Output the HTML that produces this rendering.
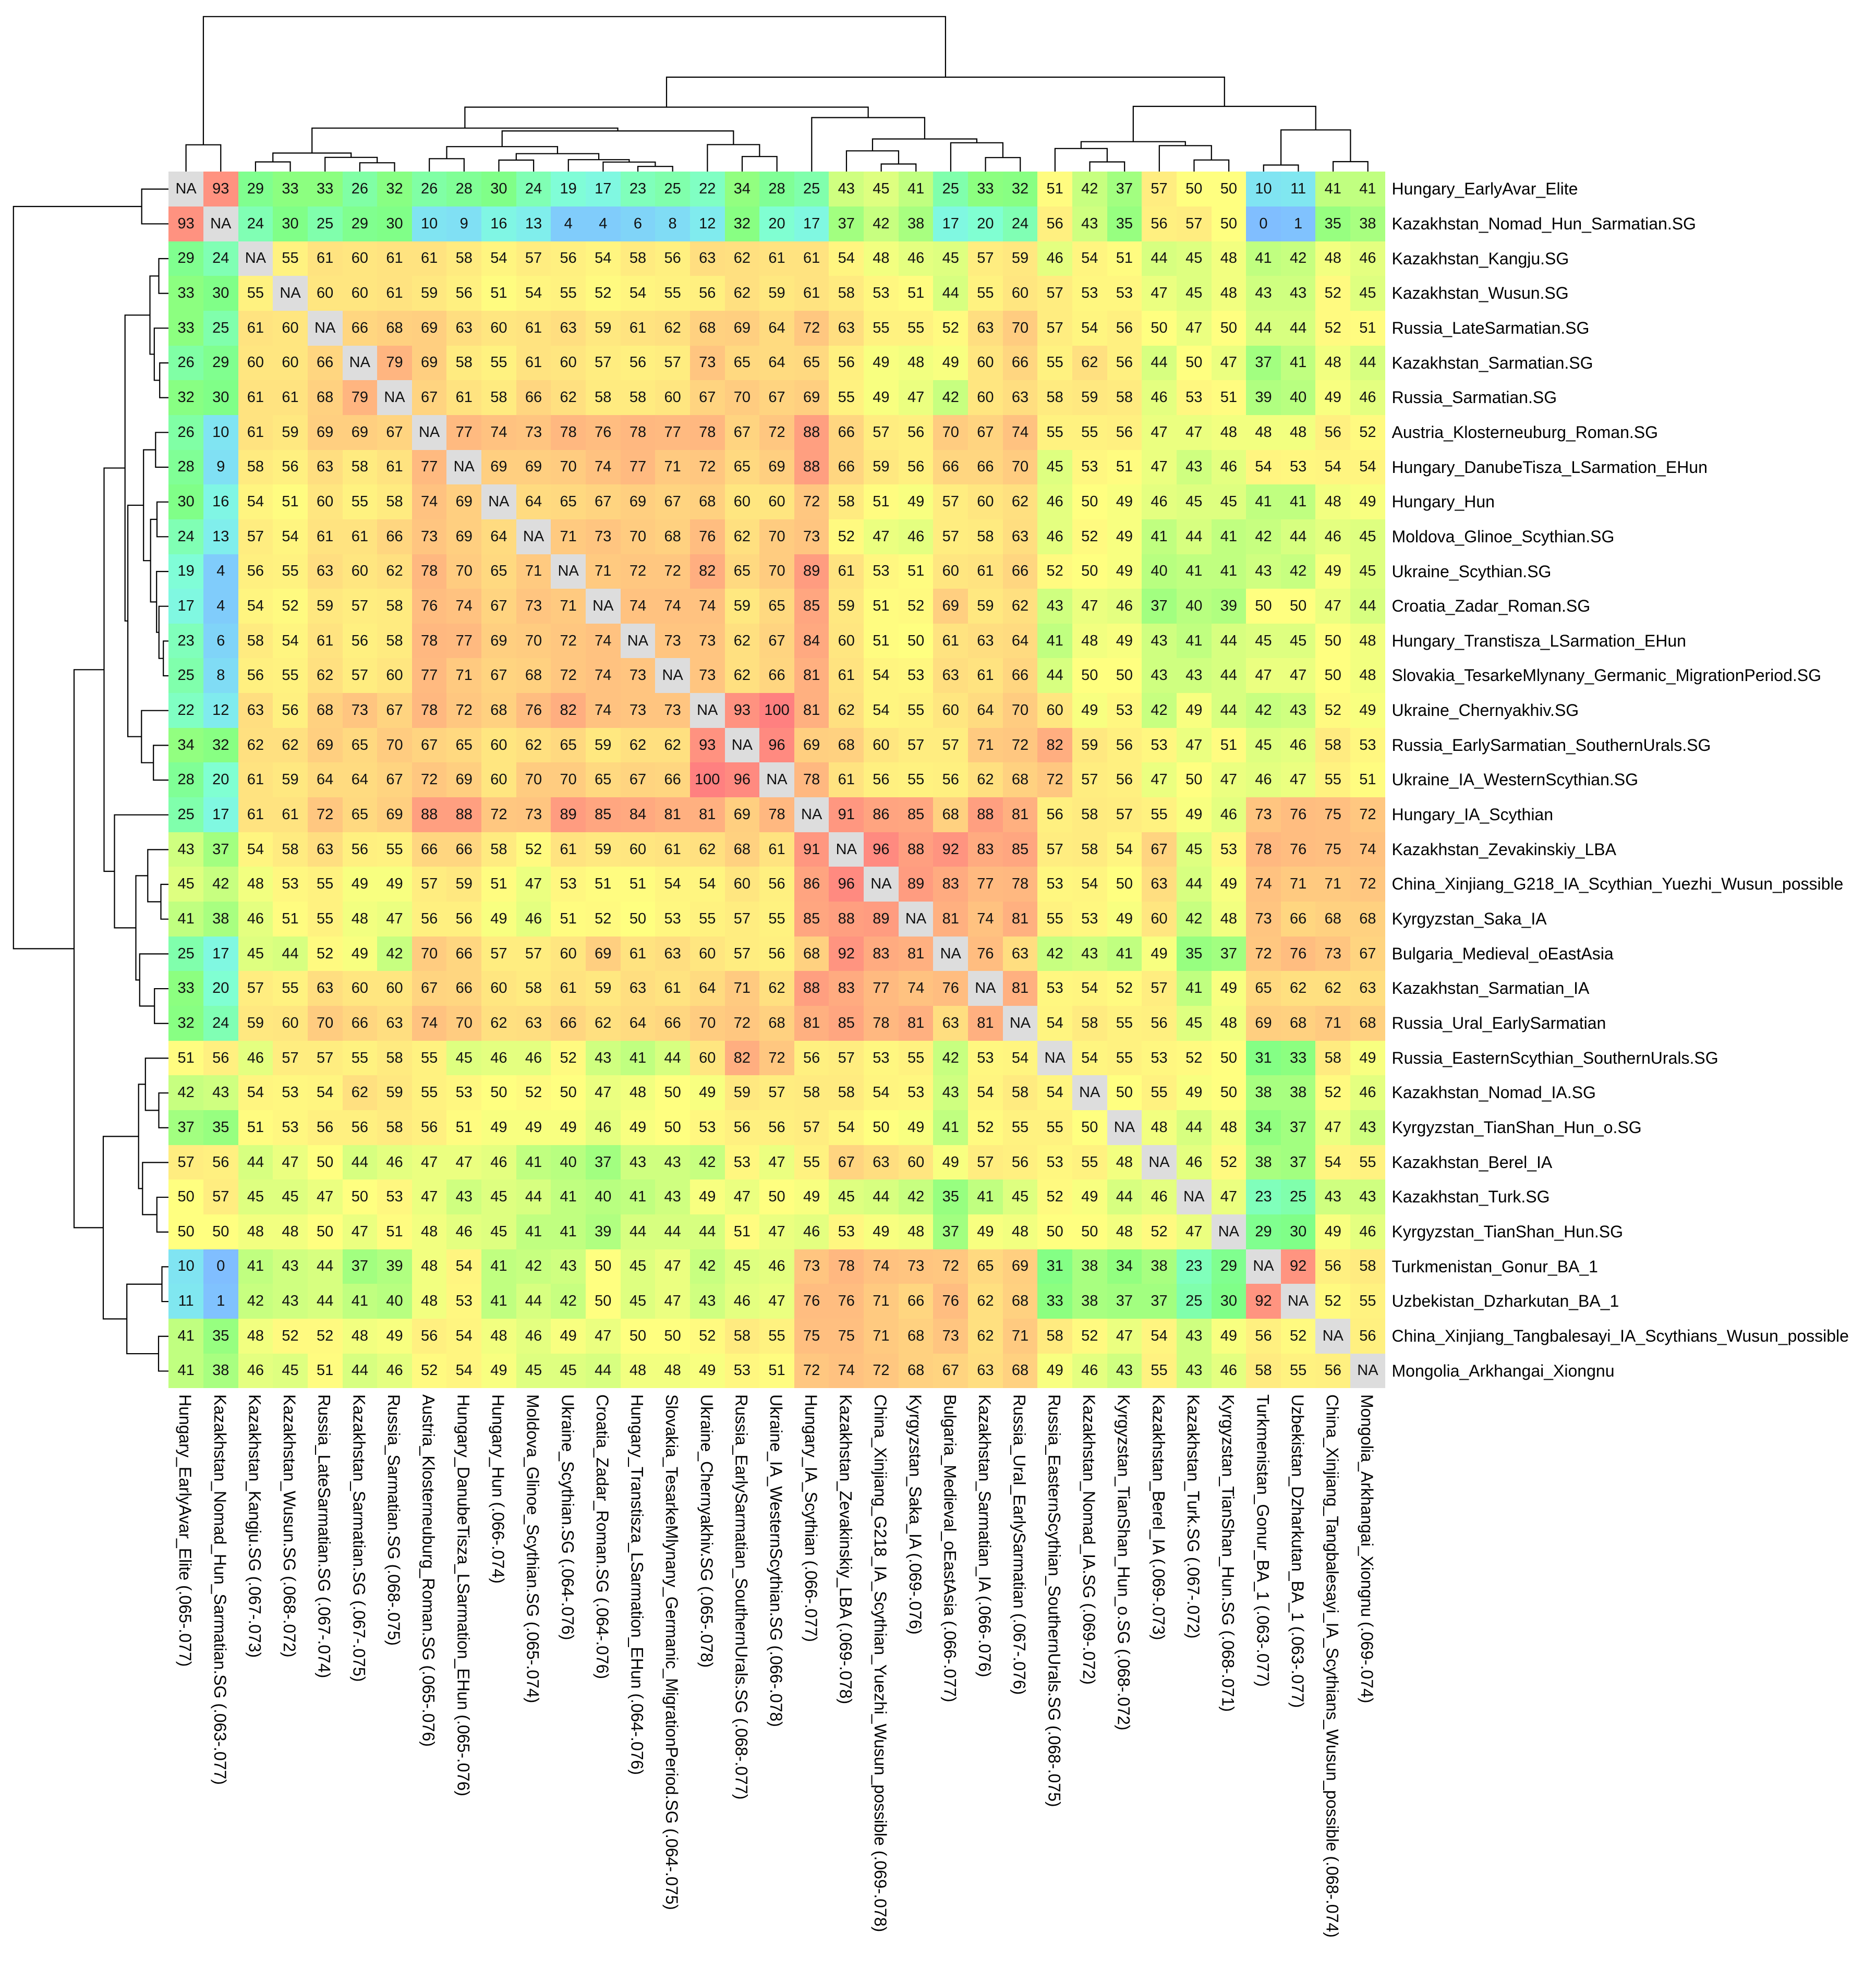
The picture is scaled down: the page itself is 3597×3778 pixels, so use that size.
<!DOCTYPE html>
<html><head><meta charset="utf-8">
<style>
html,body{margin:0;padding:0;background:#fff}
body{width:3597px;height:3778px;position:relative;overflow:hidden;font-family:"Liberation Sans",Arial,sans-serif}
.hm{position:absolute;left:323.3px;top:329.3px;display:grid;grid-template-columns:repeat(35,66.65px);grid-template-rows:repeat(35,66.67px);font-size:29px;color:#111}
.hm i{display:flex;align-items:center;justify-content:center;font-style:normal;line-height:1}
.rl{position:absolute;left:2668.5px;top:329.3px;font-size:32px;color:#000;white-space:nowrap}
.rl div{height:66.67px;line-height:66.67px}
.n{background:#DDDDDD}
.c0{background:#80BEFF}.c1{background:#80C2FE}.c2{background:#80C5FD}.c3{background:#80C9FC}.c4{background:#80CCFB}.c5{background:#80D0FA}.c6{background:#80D4F8}.c7{background:#80D8F7}.c8{background:#80DCF5}.c9{background:#80E0F4}
.c10{background:#80E4F2}.c11{background:#80E7F0}.c12{background:#80EBEE}.c13{background:#80EEEC}.c14{background:#80F1E9}.c15{background:#80F3E7}.c16{background:#80F6E4}.c17{background:#80F8E1}.c18{background:#80FADC}.c19{background:#80FDD7}
.c20{background:#80FFD2}.c21{background:#80FFCA}.c22{background:#80FFC3}.c23{background:#80FFBB}.c24{background:#80FFB4}.c25{background:#80FFAC}.c26{background:#80FFA5}.c27{background:#80FF9E}.c28{background:#80FF96}.c29{background:#80FF8F}
.c30{background:#80FF88}.c31{background:#84FF85}.c32{background:#88FF83}.c33{background:#8CFF80}.c34{background:#92FF80}.c35{background:#97FF80}.c36{background:#9DFF80}.c37{background:#A2FF80}.c38{background:#A8FF80}.c39{background:#B0FF80}
.c40{background:#B8FF80}.c41{background:#C0FF80}.c42{background:#C7FF80}.c43{background:#CFFF80}.c44{background:#D7FF80}.c45{background:#DEFF80}.c46{background:#E4FF80}.c47{background:#EBFF80}.c48{background:#F2FF80}.c49{background:#F8FF80}
.c50{background:#FFFF80}.c51{background:#FFFC80}.c52{background:#FFFA80}.c53{background:#FFF780}.c54{background:#FFF580}.c55{background:#FFF280}.c56{background:#FFF080}.c57{background:#FFED80}.c58{background:#FFEB80}.c59{background:#FFE880}
.c60{background:#FFE680}.c61{background:#FFE380}.c62{background:#FFE080}.c63{background:#FFDE80}.c64{background:#FFDB80}.c65{background:#FFD980}.c66{background:#FFD680}.c67{background:#FFD480}.c68{background:#FFD180}.c69{background:#FFCF80}
.c70{background:#FFCC80}.c71{background:#FFCA80}.c72{background:#FFC780}.c73{background:#FFC580}.c74{background:#FFC280}.c75{background:#FFBF80}.c76{background:#FFBD80}.c77{background:#FFBA80}.c78{background:#FFB880}.c79{background:#FFB580}
.c80{background:#FFB380}.c81{background:#FFB080}.c82{background:#FFAE80}.c83{background:#FFAB80}.c84{background:#FFA980}.c85{background:#FFA680}.c86{background:#FFA480}.c87{background:#FFA180}.c88{background:#FF9F80}.c89{background:#FF9C80}
.c90{background:#FF9980}.c91{background:#FF9780}.c92{background:#FF9480}.c93{background:#FF9280}.c96{background:#FF8A80}.c100{background:#FF8080}
</style></head><body>
<svg width="3597" height="3778" style="position:absolute;left:0;top:0" xmlns="http://www.w3.org/2000/svg">
<g transform="matrix(66.65 0 0 -1 323.3 329.3)" fill="none" stroke="#000" stroke-width="2.2">
<path vector-effect="non-scaling-stroke" d="M0.5 0V51.6H1.5V0M2.5 0V18.8H3.5V0M5.5 0V17.1H6.5V0M4.5 0V27.5H6V17.1M3 18.8V35.8H5.25V27.5M7.5 0V25H8.5V0M9.5 0V22.3H10.5V0M13.5 0V10.1H14.5V0M12.5 0V18.5H14V10.1M11.5 0V23.1H13.25V18.5M10 22.3V34.6H12.375V23.1M8 25V48.1H11.1875V34.6M16.5 0V29.1H17.5V0M15.5 0V52H17V29.1M9.59375 48.1V78.2H16.25V52M4.125 35.8V83.6H12.921875V78.2M20.5 0V14.8H21.5V0M19.5 0V40H21V14.8M23.5 0V27.1H24.5V0M22.5 0V55.5H24V27.1M20.25 40V62.8H23.25V55.5M18.5 0V103.8H21.75V62.8M8.5234 83.6V123.8H20.125V103.8M26.5 0V18.8H27.5V0M25.5 0V44.5H27V18.8M29.5 0V22.5H30.5V0M28.5 0V50H30V22.5M26.25 44.5V57.6H29.25V50M31.5 0V12.8H32.5V0M33.5 0V19.3H34.5V0M32 12.8V80.1H34V19.3M27.75 57.6V125.3H33V80.1M14.3242 123.8V181.3H30.375V125.3M1 51.6V297.5H22.3496V181.3"/>
</g>
<g transform="matrix(0 66.67 -1 0 323.3 329.3)" fill="none" stroke="#000" stroke-width="2.2">
<path vector-effect="non-scaling-stroke" d="M0.5 0V51.6H1.5V0M2.5 0V18.8H3.5V0M5.5 0V17.1H6.5V0M4.5 0V27.5H6V17.1M3 18.8V35.8H5.25V27.5M7.5 0V25H8.5V0M9.5 0V22.3H10.5V0M13.5 0V10.1H14.5V0M12.5 0V18.5H14V10.1M11.5 0V23.1H13.25V18.5M10 22.3V34.6H12.375V23.1M8 25V48.1H11.1875V34.6M16.5 0V29.1H17.5V0M15.5 0V52H17V29.1M9.59375 48.1V78.2H16.25V52M4.125 35.8V83.6H12.921875V78.2M20.5 0V14.8H21.5V0M19.5 0V40H21V14.8M23.5 0V27.1H24.5V0M22.5 0V55.5H24V27.1M20.25 40V62.8H23.25V55.5M18.5 0V103.8H21.75V62.8M8.5234 83.6V123.8H20.125V103.8M26.5 0V18.8H27.5V0M25.5 0V44.5H27V18.8M29.5 0V22.5H30.5V0M28.5 0V50H30V22.5M26.25 44.5V57.6H29.25V50M31.5 0V12.8H32.5V0M33.5 0V19.3H34.5V0M32 12.8V80.1H34V19.3M27.75 57.6V125.3H33V80.1M14.3242 123.8V181.3H30.375V125.3M1 51.6V297.5H22.3496V181.3"/>
</g>
<g transform="rotate(90)" font-family="Liberation Sans, Arial, sans-serif" font-size="32" fill="#000">
<text x="2674" y="-344.1">Hungary_EarlyAvar_Elite (.065-.077)</text>
<text x="2674" y="-410.8">Kazakhstan_Nomad_Hun_Sarmatian.SG (.063-.077)</text>
<text x="2674" y="-477.4">Kazakhstan_Kangju.SG (.067-.073)</text>
<text x="2674" y="-544.1">Kazakhstan_Wusun.SG (.068-.072)</text>
<text x="2674" y="-610.7">Russia_LateSarmatian.SG (.067-.074)</text>
<text x="2674" y="-677.4">Kazakhstan_Sarmatian.SG (.067-.075)</text>
<text x="2674" y="-744.0">Russia_Sarmatian.SG (.068-.075)</text>
<text x="2674" y="-810.7">Austria_Klosterneuburg_Roman.SG (.065-.076)</text>
<text x="2674" y="-877.3">Hungary_DanubeTisza_LSarmation_EHun (.065-.076)</text>
<text x="2674" y="-944.0">Hungary_Hun (.066-.074)</text>
<text x="2674" y="-1010.6">Moldova_Glinoe_Scythian.SG (.065-.074)</text>
<text x="2674" y="-1077.3">Ukraine_Scythian.SG (.064-.076)</text>
<text x="2674" y="-1143.9">Croatia_Zadar_Roman.SG (.064-.076)</text>
<text x="2674" y="-1210.6">Hungary_Transtisza_LSarmation_EHun (.064-.076)</text>
<text x="2674" y="-1277.2">Slovakia_TesarkeMlynany_Germanic_MigrationPeriod.SG (.064-.075)</text>
<text x="2674" y="-1343.9">Ukraine_Chernyakhiv.SG (.065-.078)</text>
<text x="2674" y="-1410.5">Russia_EarlySarmatian_SouthernUrals.SG (.068-.077)</text>
<text x="2674" y="-1477.2">Ukraine_IA_WesternScythian.SG (.066-.078)</text>
<text x="2674" y="-1543.8">Hungary_IA_Scythian (.066-.077)</text>
<text x="2674" y="-1610.5">Kazakhstan_Zevakinskiy_LBA (.069-.078)</text>
<text x="2674" y="-1677.1">China_Xinjiang_G218_IA_Scythian_Yuezhi_Wusun_possible (.069-.078)</text>
<text x="2674" y="-1743.8">Kyrgyzstan_Saka_IA (.069-.076)</text>
<text x="2674" y="-1810.4">Bulgaria_Medieval_oEastAsia (.066-.077)</text>
<text x="2674" y="-1877.1">Kazakhstan_Sarmatian_IA (.066-.076)</text>
<text x="2674" y="-1943.7">Russia_Ural_EarlySarmatian (.067-.076)</text>
<text x="2674" y="-2010.4">Russia_EasternScythian_SouthernUrals.SG (.068-.075)</text>
<text x="2674" y="-2077.0">Kazakhstan_Nomad_IA.SG (.069-.072)</text>
<text x="2674" y="-2143.7">Kyrgyzstan_TianShan_Hun_o.SG (.068-.072)</text>
<text x="2674" y="-2210.3">Kazakhstan_Berel_IA (.069-.073)</text>
<text x="2674" y="-2277.0">Kazakhstan_Turk.SG (.067-.072)</text>
<text x="2674" y="-2343.6">Kyrgyzstan_TianShan_Hun.SG (.068-.071)</text>
<text x="2674" y="-2410.3">Turkmenistan_Gonur_BA_1 (.063-.077)</text>
<text x="2674" y="-2476.9">Uzbekistan_Dzharkutan_BA_1 (.063-.077)</text>
<text x="2674" y="-2543.6">China_Xinjiang_Tangbalesayi_IA_Scythians_Wusun_possible (.068-.074)</text>
<text x="2674" y="-2610.2">Mongolia_Arkhangai_Xiongnu (.069-.074)</text>
</g>
</svg>
<div class="hm">
<i class=n>NA</i><i class=c93>93</i><i class=c29>29</i><i class=c33>33</i><i class=c33>33</i><i class=c26>26</i><i class=c32>32</i><i class=c26>26</i><i class=c28>28</i><i class=c30>30</i><i class=c24>24</i><i class=c19>19</i><i class=c17>17</i><i class=c23>23</i><i class=c25>25</i><i class=c22>22</i><i class=c34>34</i><i class=c28>28</i><i class=c25>25</i><i class=c43>43</i><i class=c45>45</i><i class=c41>41</i><i class=c25>25</i><i class=c33>33</i><i class=c32>32</i><i class=c51>51</i><i class=c42>42</i><i class=c37>37</i><i class=c57>57</i><i class=c50>50</i><i class=c50>50</i><i class=c10>10</i><i class=c11>11</i><i class=c41>41</i><i class=c41>41</i>
<i class=c93>93</i><i class=n>NA</i><i class=c24>24</i><i class=c30>30</i><i class=c25>25</i><i class=c29>29</i><i class=c30>30</i><i class=c10>10</i><i class=c9>9</i><i class=c16>16</i><i class=c13>13</i><i class=c4>4</i><i class=c4>4</i><i class=c6>6</i><i class=c8>8</i><i class=c12>12</i><i class=c32>32</i><i class=c20>20</i><i class=c17>17</i><i class=c37>37</i><i class=c42>42</i><i class=c38>38</i><i class=c17>17</i><i class=c20>20</i><i class=c24>24</i><i class=c56>56</i><i class=c43>43</i><i class=c35>35</i><i class=c56>56</i><i class=c57>57</i><i class=c50>50</i><i class=c0>0</i><i class=c1>1</i><i class=c35>35</i><i class=c38>38</i>
<i class=c29>29</i><i class=c24>24</i><i class=n>NA</i><i class=c55>55</i><i class=c61>61</i><i class=c60>60</i><i class=c61>61</i><i class=c61>61</i><i class=c58>58</i><i class=c54>54</i><i class=c57>57</i><i class=c56>56</i><i class=c54>54</i><i class=c58>58</i><i class=c56>56</i><i class=c63>63</i><i class=c62>62</i><i class=c61>61</i><i class=c61>61</i><i class=c54>54</i><i class=c48>48</i><i class=c46>46</i><i class=c45>45</i><i class=c57>57</i><i class=c59>59</i><i class=c46>46</i><i class=c54>54</i><i class=c51>51</i><i class=c44>44</i><i class=c45>45</i><i class=c48>48</i><i class=c41>41</i><i class=c42>42</i><i class=c48>48</i><i class=c46>46</i>
<i class=c33>33</i><i class=c30>30</i><i class=c55>55</i><i class=n>NA</i><i class=c60>60</i><i class=c60>60</i><i class=c61>61</i><i class=c59>59</i><i class=c56>56</i><i class=c51>51</i><i class=c54>54</i><i class=c55>55</i><i class=c52>52</i><i class=c54>54</i><i class=c55>55</i><i class=c56>56</i><i class=c62>62</i><i class=c59>59</i><i class=c61>61</i><i class=c58>58</i><i class=c53>53</i><i class=c51>51</i><i class=c44>44</i><i class=c55>55</i><i class=c60>60</i><i class=c57>57</i><i class=c53>53</i><i class=c53>53</i><i class=c47>47</i><i class=c45>45</i><i class=c48>48</i><i class=c43>43</i><i class=c43>43</i><i class=c52>52</i><i class=c45>45</i>
<i class=c33>33</i><i class=c25>25</i><i class=c61>61</i><i class=c60>60</i><i class=n>NA</i><i class=c66>66</i><i class=c68>68</i><i class=c69>69</i><i class=c63>63</i><i class=c60>60</i><i class=c61>61</i><i class=c63>63</i><i class=c59>59</i><i class=c61>61</i><i class=c62>62</i><i class=c68>68</i><i class=c69>69</i><i class=c64>64</i><i class=c72>72</i><i class=c63>63</i><i class=c55>55</i><i class=c55>55</i><i class=c52>52</i><i class=c63>63</i><i class=c70>70</i><i class=c57>57</i><i class=c54>54</i><i class=c56>56</i><i class=c50>50</i><i class=c47>47</i><i class=c50>50</i><i class=c44>44</i><i class=c44>44</i><i class=c52>52</i><i class=c51>51</i>
<i class=c26>26</i><i class=c29>29</i><i class=c60>60</i><i class=c60>60</i><i class=c66>66</i><i class=n>NA</i><i class=c79>79</i><i class=c69>69</i><i class=c58>58</i><i class=c55>55</i><i class=c61>61</i><i class=c60>60</i><i class=c57>57</i><i class=c56>56</i><i class=c57>57</i><i class=c73>73</i><i class=c65>65</i><i class=c64>64</i><i class=c65>65</i><i class=c56>56</i><i class=c49>49</i><i class=c48>48</i><i class=c49>49</i><i class=c60>60</i><i class=c66>66</i><i class=c55>55</i><i class=c62>62</i><i class=c56>56</i><i class=c44>44</i><i class=c50>50</i><i class=c47>47</i><i class=c37>37</i><i class=c41>41</i><i class=c48>48</i><i class=c44>44</i>
<i class=c32>32</i><i class=c30>30</i><i class=c61>61</i><i class=c61>61</i><i class=c68>68</i><i class=c79>79</i><i class=n>NA</i><i class=c67>67</i><i class=c61>61</i><i class=c58>58</i><i class=c66>66</i><i class=c62>62</i><i class=c58>58</i><i class=c58>58</i><i class=c60>60</i><i class=c67>67</i><i class=c70>70</i><i class=c67>67</i><i class=c69>69</i><i class=c55>55</i><i class=c49>49</i><i class=c47>47</i><i class=c42>42</i><i class=c60>60</i><i class=c63>63</i><i class=c58>58</i><i class=c59>59</i><i class=c58>58</i><i class=c46>46</i><i class=c53>53</i><i class=c51>51</i><i class=c39>39</i><i class=c40>40</i><i class=c49>49</i><i class=c46>46</i>
<i class=c26>26</i><i class=c10>10</i><i class=c61>61</i><i class=c59>59</i><i class=c69>69</i><i class=c69>69</i><i class=c67>67</i><i class=n>NA</i><i class=c77>77</i><i class=c74>74</i><i class=c73>73</i><i class=c78>78</i><i class=c76>76</i><i class=c78>78</i><i class=c77>77</i><i class=c78>78</i><i class=c67>67</i><i class=c72>72</i><i class=c88>88</i><i class=c66>66</i><i class=c57>57</i><i class=c56>56</i><i class=c70>70</i><i class=c67>67</i><i class=c74>74</i><i class=c55>55</i><i class=c55>55</i><i class=c56>56</i><i class=c47>47</i><i class=c47>47</i><i class=c48>48</i><i class=c48>48</i><i class=c48>48</i><i class=c56>56</i><i class=c52>52</i>
<i class=c28>28</i><i class=c9>9</i><i class=c58>58</i><i class=c56>56</i><i class=c63>63</i><i class=c58>58</i><i class=c61>61</i><i class=c77>77</i><i class=n>NA</i><i class=c69>69</i><i class=c69>69</i><i class=c70>70</i><i class=c74>74</i><i class=c77>77</i><i class=c71>71</i><i class=c72>72</i><i class=c65>65</i><i class=c69>69</i><i class=c88>88</i><i class=c66>66</i><i class=c59>59</i><i class=c56>56</i><i class=c66>66</i><i class=c66>66</i><i class=c70>70</i><i class=c45>45</i><i class=c53>53</i><i class=c51>51</i><i class=c47>47</i><i class=c43>43</i><i class=c46>46</i><i class=c54>54</i><i class=c53>53</i><i class=c54>54</i><i class=c54>54</i>
<i class=c30>30</i><i class=c16>16</i><i class=c54>54</i><i class=c51>51</i><i class=c60>60</i><i class=c55>55</i><i class=c58>58</i><i class=c74>74</i><i class=c69>69</i><i class=n>NA</i><i class=c64>64</i><i class=c65>65</i><i class=c67>67</i><i class=c69>69</i><i class=c67>67</i><i class=c68>68</i><i class=c60>60</i><i class=c60>60</i><i class=c72>72</i><i class=c58>58</i><i class=c51>51</i><i class=c49>49</i><i class=c57>57</i><i class=c60>60</i><i class=c62>62</i><i class=c46>46</i><i class=c50>50</i><i class=c49>49</i><i class=c46>46</i><i class=c45>45</i><i class=c45>45</i><i class=c41>41</i><i class=c41>41</i><i class=c48>48</i><i class=c49>49</i>
<i class=c24>24</i><i class=c13>13</i><i class=c57>57</i><i class=c54>54</i><i class=c61>61</i><i class=c61>61</i><i class=c66>66</i><i class=c73>73</i><i class=c69>69</i><i class=c64>64</i><i class=n>NA</i><i class=c71>71</i><i class=c73>73</i><i class=c70>70</i><i class=c68>68</i><i class=c76>76</i><i class=c62>62</i><i class=c70>70</i><i class=c73>73</i><i class=c52>52</i><i class=c47>47</i><i class=c46>46</i><i class=c57>57</i><i class=c58>58</i><i class=c63>63</i><i class=c46>46</i><i class=c52>52</i><i class=c49>49</i><i class=c41>41</i><i class=c44>44</i><i class=c41>41</i><i class=c42>42</i><i class=c44>44</i><i class=c46>46</i><i class=c45>45</i>
<i class=c19>19</i><i class=c4>4</i><i class=c56>56</i><i class=c55>55</i><i class=c63>63</i><i class=c60>60</i><i class=c62>62</i><i class=c78>78</i><i class=c70>70</i><i class=c65>65</i><i class=c71>71</i><i class=n>NA</i><i class=c71>71</i><i class=c72>72</i><i class=c72>72</i><i class=c82>82</i><i class=c65>65</i><i class=c70>70</i><i class=c89>89</i><i class=c61>61</i><i class=c53>53</i><i class=c51>51</i><i class=c60>60</i><i class=c61>61</i><i class=c66>66</i><i class=c52>52</i><i class=c50>50</i><i class=c49>49</i><i class=c40>40</i><i class=c41>41</i><i class=c41>41</i><i class=c43>43</i><i class=c42>42</i><i class=c49>49</i><i class=c45>45</i>
<i class=c17>17</i><i class=c4>4</i><i class=c54>54</i><i class=c52>52</i><i class=c59>59</i><i class=c57>57</i><i class=c58>58</i><i class=c76>76</i><i class=c74>74</i><i class=c67>67</i><i class=c73>73</i><i class=c71>71</i><i class=n>NA</i><i class=c74>74</i><i class=c74>74</i><i class=c74>74</i><i class=c59>59</i><i class=c65>65</i><i class=c85>85</i><i class=c59>59</i><i class=c51>51</i><i class=c52>52</i><i class=c69>69</i><i class=c59>59</i><i class=c62>62</i><i class=c43>43</i><i class=c47>47</i><i class=c46>46</i><i class=c37>37</i><i class=c40>40</i><i class=c39>39</i><i class=c50>50</i><i class=c50>50</i><i class=c47>47</i><i class=c44>44</i>
<i class=c23>23</i><i class=c6>6</i><i class=c58>58</i><i class=c54>54</i><i class=c61>61</i><i class=c56>56</i><i class=c58>58</i><i class=c78>78</i><i class=c77>77</i><i class=c69>69</i><i class=c70>70</i><i class=c72>72</i><i class=c74>74</i><i class=n>NA</i><i class=c73>73</i><i class=c73>73</i><i class=c62>62</i><i class=c67>67</i><i class=c84>84</i><i class=c60>60</i><i class=c51>51</i><i class=c50>50</i><i class=c61>61</i><i class=c63>63</i><i class=c64>64</i><i class=c41>41</i><i class=c48>48</i><i class=c49>49</i><i class=c43>43</i><i class=c41>41</i><i class=c44>44</i><i class=c45>45</i><i class=c45>45</i><i class=c50>50</i><i class=c48>48</i>
<i class=c25>25</i><i class=c8>8</i><i class=c56>56</i><i class=c55>55</i><i class=c62>62</i><i class=c57>57</i><i class=c60>60</i><i class=c77>77</i><i class=c71>71</i><i class=c67>67</i><i class=c68>68</i><i class=c72>72</i><i class=c74>74</i><i class=c73>73</i><i class=n>NA</i><i class=c73>73</i><i class=c62>62</i><i class=c66>66</i><i class=c81>81</i><i class=c61>61</i><i class=c54>54</i><i class=c53>53</i><i class=c63>63</i><i class=c61>61</i><i class=c66>66</i><i class=c44>44</i><i class=c50>50</i><i class=c50>50</i><i class=c43>43</i><i class=c43>43</i><i class=c44>44</i><i class=c47>47</i><i class=c47>47</i><i class=c50>50</i><i class=c48>48</i>
<i class=c22>22</i><i class=c12>12</i><i class=c63>63</i><i class=c56>56</i><i class=c68>68</i><i class=c73>73</i><i class=c67>67</i><i class=c78>78</i><i class=c72>72</i><i class=c68>68</i><i class=c76>76</i><i class=c82>82</i><i class=c74>74</i><i class=c73>73</i><i class=c73>73</i><i class=n>NA</i><i class=c93>93</i><i class=c100>100</i><i class=c81>81</i><i class=c62>62</i><i class=c54>54</i><i class=c55>55</i><i class=c60>60</i><i class=c64>64</i><i class=c70>70</i><i class=c60>60</i><i class=c49>49</i><i class=c53>53</i><i class=c42>42</i><i class=c49>49</i><i class=c44>44</i><i class=c42>42</i><i class=c43>43</i><i class=c52>52</i><i class=c49>49</i>
<i class=c34>34</i><i class=c32>32</i><i class=c62>62</i><i class=c62>62</i><i class=c69>69</i><i class=c65>65</i><i class=c70>70</i><i class=c67>67</i><i class=c65>65</i><i class=c60>60</i><i class=c62>62</i><i class=c65>65</i><i class=c59>59</i><i class=c62>62</i><i class=c62>62</i><i class=c93>93</i><i class=n>NA</i><i class=c96>96</i><i class=c69>69</i><i class=c68>68</i><i class=c60>60</i><i class=c57>57</i><i class=c57>57</i><i class=c71>71</i><i class=c72>72</i><i class=c82>82</i><i class=c59>59</i><i class=c56>56</i><i class=c53>53</i><i class=c47>47</i><i class=c51>51</i><i class=c45>45</i><i class=c46>46</i><i class=c58>58</i><i class=c53>53</i>
<i class=c28>28</i><i class=c20>20</i><i class=c61>61</i><i class=c59>59</i><i class=c64>64</i><i class=c64>64</i><i class=c67>67</i><i class=c72>72</i><i class=c69>69</i><i class=c60>60</i><i class=c70>70</i><i class=c70>70</i><i class=c65>65</i><i class=c67>67</i><i class=c66>66</i><i class=c100>100</i><i class=c96>96</i><i class=n>NA</i><i class=c78>78</i><i class=c61>61</i><i class=c56>56</i><i class=c55>55</i><i class=c56>56</i><i class=c62>62</i><i class=c68>68</i><i class=c72>72</i><i class=c57>57</i><i class=c56>56</i><i class=c47>47</i><i class=c50>50</i><i class=c47>47</i><i class=c46>46</i><i class=c47>47</i><i class=c55>55</i><i class=c51>51</i>
<i class=c25>25</i><i class=c17>17</i><i class=c61>61</i><i class=c61>61</i><i class=c72>72</i><i class=c65>65</i><i class=c69>69</i><i class=c88>88</i><i class=c88>88</i><i class=c72>72</i><i class=c73>73</i><i class=c89>89</i><i class=c85>85</i><i class=c84>84</i><i class=c81>81</i><i class=c81>81</i><i class=c69>69</i><i class=c78>78</i><i class=n>NA</i><i class=c91>91</i><i class=c86>86</i><i class=c85>85</i><i class=c68>68</i><i class=c88>88</i><i class=c81>81</i><i class=c56>56</i><i class=c58>58</i><i class=c57>57</i><i class=c55>55</i><i class=c49>49</i><i class=c46>46</i><i class=c73>73</i><i class=c76>76</i><i class=c75>75</i><i class=c72>72</i>
<i class=c43>43</i><i class=c37>37</i><i class=c54>54</i><i class=c58>58</i><i class=c63>63</i><i class=c56>56</i><i class=c55>55</i><i class=c66>66</i><i class=c66>66</i><i class=c58>58</i><i class=c52>52</i><i class=c61>61</i><i class=c59>59</i><i class=c60>60</i><i class=c61>61</i><i class=c62>62</i><i class=c68>68</i><i class=c61>61</i><i class=c91>91</i><i class=n>NA</i><i class=c96>96</i><i class=c88>88</i><i class=c92>92</i><i class=c83>83</i><i class=c85>85</i><i class=c57>57</i><i class=c58>58</i><i class=c54>54</i><i class=c67>67</i><i class=c45>45</i><i class=c53>53</i><i class=c78>78</i><i class=c76>76</i><i class=c75>75</i><i class=c74>74</i>
<i class=c45>45</i><i class=c42>42</i><i class=c48>48</i><i class=c53>53</i><i class=c55>55</i><i class=c49>49</i><i class=c49>49</i><i class=c57>57</i><i class=c59>59</i><i class=c51>51</i><i class=c47>47</i><i class=c53>53</i><i class=c51>51</i><i class=c51>51</i><i class=c54>54</i><i class=c54>54</i><i class=c60>60</i><i class=c56>56</i><i class=c86>86</i><i class=c96>96</i><i class=n>NA</i><i class=c89>89</i><i class=c83>83</i><i class=c77>77</i><i class=c78>78</i><i class=c53>53</i><i class=c54>54</i><i class=c50>50</i><i class=c63>63</i><i class=c44>44</i><i class=c49>49</i><i class=c74>74</i><i class=c71>71</i><i class=c71>71</i><i class=c72>72</i>
<i class=c41>41</i><i class=c38>38</i><i class=c46>46</i><i class=c51>51</i><i class=c55>55</i><i class=c48>48</i><i class=c47>47</i><i class=c56>56</i><i class=c56>56</i><i class=c49>49</i><i class=c46>46</i><i class=c51>51</i><i class=c52>52</i><i class=c50>50</i><i class=c53>53</i><i class=c55>55</i><i class=c57>57</i><i class=c55>55</i><i class=c85>85</i><i class=c88>88</i><i class=c89>89</i><i class=n>NA</i><i class=c81>81</i><i class=c74>74</i><i class=c81>81</i><i class=c55>55</i><i class=c53>53</i><i class=c49>49</i><i class=c60>60</i><i class=c42>42</i><i class=c48>48</i><i class=c73>73</i><i class=c66>66</i><i class=c68>68</i><i class=c68>68</i>
<i class=c25>25</i><i class=c17>17</i><i class=c45>45</i><i class=c44>44</i><i class=c52>52</i><i class=c49>49</i><i class=c42>42</i><i class=c70>70</i><i class=c66>66</i><i class=c57>57</i><i class=c57>57</i><i class=c60>60</i><i class=c69>69</i><i class=c61>61</i><i class=c63>63</i><i class=c60>60</i><i class=c57>57</i><i class=c56>56</i><i class=c68>68</i><i class=c92>92</i><i class=c83>83</i><i class=c81>81</i><i class=n>NA</i><i class=c76>76</i><i class=c63>63</i><i class=c42>42</i><i class=c43>43</i><i class=c41>41</i><i class=c49>49</i><i class=c35>35</i><i class=c37>37</i><i class=c72>72</i><i class=c76>76</i><i class=c73>73</i><i class=c67>67</i>
<i class=c33>33</i><i class=c20>20</i><i class=c57>57</i><i class=c55>55</i><i class=c63>63</i><i class=c60>60</i><i class=c60>60</i><i class=c67>67</i><i class=c66>66</i><i class=c60>60</i><i class=c58>58</i><i class=c61>61</i><i class=c59>59</i><i class=c63>63</i><i class=c61>61</i><i class=c64>64</i><i class=c71>71</i><i class=c62>62</i><i class=c88>88</i><i class=c83>83</i><i class=c77>77</i><i class=c74>74</i><i class=c76>76</i><i class=n>NA</i><i class=c81>81</i><i class=c53>53</i><i class=c54>54</i><i class=c52>52</i><i class=c57>57</i><i class=c41>41</i><i class=c49>49</i><i class=c65>65</i><i class=c62>62</i><i class=c62>62</i><i class=c63>63</i>
<i class=c32>32</i><i class=c24>24</i><i class=c59>59</i><i class=c60>60</i><i class=c70>70</i><i class=c66>66</i><i class=c63>63</i><i class=c74>74</i><i class=c70>70</i><i class=c62>62</i><i class=c63>63</i><i class=c66>66</i><i class=c62>62</i><i class=c64>64</i><i class=c66>66</i><i class=c70>70</i><i class=c72>72</i><i class=c68>68</i><i class=c81>81</i><i class=c85>85</i><i class=c78>78</i><i class=c81>81</i><i class=c63>63</i><i class=c81>81</i><i class=n>NA</i><i class=c54>54</i><i class=c58>58</i><i class=c55>55</i><i class=c56>56</i><i class=c45>45</i><i class=c48>48</i><i class=c69>69</i><i class=c68>68</i><i class=c71>71</i><i class=c68>68</i>
<i class=c51>51</i><i class=c56>56</i><i class=c46>46</i><i class=c57>57</i><i class=c57>57</i><i class=c55>55</i><i class=c58>58</i><i class=c55>55</i><i class=c45>45</i><i class=c46>46</i><i class=c46>46</i><i class=c52>52</i><i class=c43>43</i><i class=c41>41</i><i class=c44>44</i><i class=c60>60</i><i class=c82>82</i><i class=c72>72</i><i class=c56>56</i><i class=c57>57</i><i class=c53>53</i><i class=c55>55</i><i class=c42>42</i><i class=c53>53</i><i class=c54>54</i><i class=n>NA</i><i class=c54>54</i><i class=c55>55</i><i class=c53>53</i><i class=c52>52</i><i class=c50>50</i><i class=c31>31</i><i class=c33>33</i><i class=c58>58</i><i class=c49>49</i>
<i class=c42>42</i><i class=c43>43</i><i class=c54>54</i><i class=c53>53</i><i class=c54>54</i><i class=c62>62</i><i class=c59>59</i><i class=c55>55</i><i class=c53>53</i><i class=c50>50</i><i class=c52>52</i><i class=c50>50</i><i class=c47>47</i><i class=c48>48</i><i class=c50>50</i><i class=c49>49</i><i class=c59>59</i><i class=c57>57</i><i class=c58>58</i><i class=c58>58</i><i class=c54>54</i><i class=c53>53</i><i class=c43>43</i><i class=c54>54</i><i class=c58>58</i><i class=c54>54</i><i class=n>NA</i><i class=c50>50</i><i class=c55>55</i><i class=c49>49</i><i class=c50>50</i><i class=c38>38</i><i class=c38>38</i><i class=c52>52</i><i class=c46>46</i>
<i class=c37>37</i><i class=c35>35</i><i class=c51>51</i><i class=c53>53</i><i class=c56>56</i><i class=c56>56</i><i class=c58>58</i><i class=c56>56</i><i class=c51>51</i><i class=c49>49</i><i class=c49>49</i><i class=c49>49</i><i class=c46>46</i><i class=c49>49</i><i class=c50>50</i><i class=c53>53</i><i class=c56>56</i><i class=c56>56</i><i class=c57>57</i><i class=c54>54</i><i class=c50>50</i><i class=c49>49</i><i class=c41>41</i><i class=c52>52</i><i class=c55>55</i><i class=c55>55</i><i class=c50>50</i><i class=n>NA</i><i class=c48>48</i><i class=c44>44</i><i class=c48>48</i><i class=c34>34</i><i class=c37>37</i><i class=c47>47</i><i class=c43>43</i>
<i class=c57>57</i><i class=c56>56</i><i class=c44>44</i><i class=c47>47</i><i class=c50>50</i><i class=c44>44</i><i class=c46>46</i><i class=c47>47</i><i class=c47>47</i><i class=c46>46</i><i class=c41>41</i><i class=c40>40</i><i class=c37>37</i><i class=c43>43</i><i class=c43>43</i><i class=c42>42</i><i class=c53>53</i><i class=c47>47</i><i class=c55>55</i><i class=c67>67</i><i class=c63>63</i><i class=c60>60</i><i class=c49>49</i><i class=c57>57</i><i class=c56>56</i><i class=c53>53</i><i class=c55>55</i><i class=c48>48</i><i class=n>NA</i><i class=c46>46</i><i class=c52>52</i><i class=c38>38</i><i class=c37>37</i><i class=c54>54</i><i class=c55>55</i>
<i class=c50>50</i><i class=c57>57</i><i class=c45>45</i><i class=c45>45</i><i class=c47>47</i><i class=c50>50</i><i class=c53>53</i><i class=c47>47</i><i class=c43>43</i><i class=c45>45</i><i class=c44>44</i><i class=c41>41</i><i class=c40>40</i><i class=c41>41</i><i class=c43>43</i><i class=c49>49</i><i class=c47>47</i><i class=c50>50</i><i class=c49>49</i><i class=c45>45</i><i class=c44>44</i><i class=c42>42</i><i class=c35>35</i><i class=c41>41</i><i class=c45>45</i><i class=c52>52</i><i class=c49>49</i><i class=c44>44</i><i class=c46>46</i><i class=n>NA</i><i class=c47>47</i><i class=c23>23</i><i class=c25>25</i><i class=c43>43</i><i class=c43>43</i>
<i class=c50>50</i><i class=c50>50</i><i class=c48>48</i><i class=c48>48</i><i class=c50>50</i><i class=c47>47</i><i class=c51>51</i><i class=c48>48</i><i class=c46>46</i><i class=c45>45</i><i class=c41>41</i><i class=c41>41</i><i class=c39>39</i><i class=c44>44</i><i class=c44>44</i><i class=c44>44</i><i class=c51>51</i><i class=c47>47</i><i class=c46>46</i><i class=c53>53</i><i class=c49>49</i><i class=c48>48</i><i class=c37>37</i><i class=c49>49</i><i class=c48>48</i><i class=c50>50</i><i class=c50>50</i><i class=c48>48</i><i class=c52>52</i><i class=c47>47</i><i class=n>NA</i><i class=c29>29</i><i class=c30>30</i><i class=c49>49</i><i class=c46>46</i>
<i class=c10>10</i><i class=c0>0</i><i class=c41>41</i><i class=c43>43</i><i class=c44>44</i><i class=c37>37</i><i class=c39>39</i><i class=c48>48</i><i class=c54>54</i><i class=c41>41</i><i class=c42>42</i><i class=c43>43</i><i class=c50>50</i><i class=c45>45</i><i class=c47>47</i><i class=c42>42</i><i class=c45>45</i><i class=c46>46</i><i class=c73>73</i><i class=c78>78</i><i class=c74>74</i><i class=c73>73</i><i class=c72>72</i><i class=c65>65</i><i class=c69>69</i><i class=c31>31</i><i class=c38>38</i><i class=c34>34</i><i class=c38>38</i><i class=c23>23</i><i class=c29>29</i><i class=n>NA</i><i class=c92>92</i><i class=c56>56</i><i class=c58>58</i>
<i class=c11>11</i><i class=c1>1</i><i class=c42>42</i><i class=c43>43</i><i class=c44>44</i><i class=c41>41</i><i class=c40>40</i><i class=c48>48</i><i class=c53>53</i><i class=c41>41</i><i class=c44>44</i><i class=c42>42</i><i class=c50>50</i><i class=c45>45</i><i class=c47>47</i><i class=c43>43</i><i class=c46>46</i><i class=c47>47</i><i class=c76>76</i><i class=c76>76</i><i class=c71>71</i><i class=c66>66</i><i class=c76>76</i><i class=c62>62</i><i class=c68>68</i><i class=c33>33</i><i class=c38>38</i><i class=c37>37</i><i class=c37>37</i><i class=c25>25</i><i class=c30>30</i><i class=c92>92</i><i class=n>NA</i><i class=c52>52</i><i class=c55>55</i>
<i class=c41>41</i><i class=c35>35</i><i class=c48>48</i><i class=c52>52</i><i class=c52>52</i><i class=c48>48</i><i class=c49>49</i><i class=c56>56</i><i class=c54>54</i><i class=c48>48</i><i class=c46>46</i><i class=c49>49</i><i class=c47>47</i><i class=c50>50</i><i class=c50>50</i><i class=c52>52</i><i class=c58>58</i><i class=c55>55</i><i class=c75>75</i><i class=c75>75</i><i class=c71>71</i><i class=c68>68</i><i class=c73>73</i><i class=c62>62</i><i class=c71>71</i><i class=c58>58</i><i class=c52>52</i><i class=c47>47</i><i class=c54>54</i><i class=c43>43</i><i class=c49>49</i><i class=c56>56</i><i class=c52>52</i><i class=n>NA</i><i class=c56>56</i>
<i class=c41>41</i><i class=c38>38</i><i class=c46>46</i><i class=c45>45</i><i class=c51>51</i><i class=c44>44</i><i class=c46>46</i><i class=c52>52</i><i class=c54>54</i><i class=c49>49</i><i class=c45>45</i><i class=c45>45</i><i class=c44>44</i><i class=c48>48</i><i class=c48>48</i><i class=c49>49</i><i class=c53>53</i><i class=c51>51</i><i class=c72>72</i><i class=c74>74</i><i class=c72>72</i><i class=c68>68</i><i class=c67>67</i><i class=c63>63</i><i class=c68>68</i><i class=c49>49</i><i class=c46>46</i><i class=c43>43</i><i class=c55>55</i><i class=c43>43</i><i class=c46>46</i><i class=c58>58</i><i class=c55>55</i><i class=c56>56</i><i class=n>NA</i>
</div>
<div class="rl">
<div>Hungary_EarlyAvar_Elite</div>
<div>Kazakhstan_Nomad_Hun_Sarmatian.SG</div>
<div>Kazakhstan_Kangju.SG</div>
<div>Kazakhstan_Wusun.SG</div>
<div>Russia_LateSarmatian.SG</div>
<div>Kazakhstan_Sarmatian.SG</div>
<div>Russia_Sarmatian.SG</div>
<div>Austria_Klosterneuburg_Roman.SG</div>
<div>Hungary_DanubeTisza_LSarmation_EHun</div>
<div>Hungary_Hun</div>
<div>Moldova_Glinoe_Scythian.SG</div>
<div>Ukraine_Scythian.SG</div>
<div>Croatia_Zadar_Roman.SG</div>
<div>Hungary_Transtisza_LSarmation_EHun</div>
<div>Slovakia_TesarkeMlynany_Germanic_MigrationPeriod.SG</div>
<div>Ukraine_Chernyakhiv.SG</div>
<div>Russia_EarlySarmatian_SouthernUrals.SG</div>
<div>Ukraine_IA_WesternScythian.SG</div>
<div>Hungary_IA_Scythian</div>
<div>Kazakhstan_Zevakinskiy_LBA</div>
<div>China_Xinjiang_G218_IA_Scythian_Yuezhi_Wusun_possible</div>
<div>Kyrgyzstan_Saka_IA</div>
<div>Bulgaria_Medieval_oEastAsia</div>
<div>Kazakhstan_Sarmatian_IA</div>
<div>Russia_Ural_EarlySarmatian</div>
<div>Russia_EasternScythian_SouthernUrals.SG</div>
<div>Kazakhstan_Nomad_IA.SG</div>
<div>Kyrgyzstan_TianShan_Hun_o.SG</div>
<div>Kazakhstan_Berel_IA</div>
<div>Kazakhstan_Turk.SG</div>
<div>Kyrgyzstan_TianShan_Hun.SG</div>
<div>Turkmenistan_Gonur_BA_1</div>
<div>Uzbekistan_Dzharkutan_BA_1</div>
<div>China_Xinjiang_Tangbalesayi_IA_Scythians_Wusun_possible</div>
<div>Mongolia_Arkhangai_Xiongnu</div>
</div>
</body></html>
